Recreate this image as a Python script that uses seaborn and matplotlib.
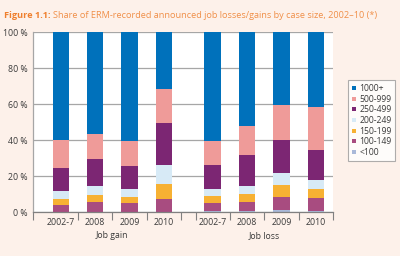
import matplotlib
matplotlib.use("Agg")
import matplotlib.pyplot as plt
import seaborn as sns
import numpy as np
from matplotlib.lines import Line2D

# ---- data ----
periods = ["2002-7", "2008", "2009", "2010"]
groups = ["Job gain", "Job loss"]
size_classes = ["<100", "100-149", "150-199", "200-249", "250-499", "500-999", "1000+"]

gain_lt100 = [0.2, 0.2, 0.2, 0.2]
gain_100_149 = [3.7, 5.4, 4.8, 7.0]
gain_150_199 = [3.3, 3.7, 3.5, 8.2]
gain_200_249 = [4.5, 5.2, 4.1, 10.8]
gain_250_499 = [12.6, 15.0, 13.0, 23.0]
gain_500_999 = [15.8, 14.1, 13.9, 19.1]
gain_1000p = [59.9, 56.4, 60.5, 31.7]

loss_lt100 = [0.3, 0.3, 1.1, 0.6]
loss_100_149 = [4.7, 5.1, 7.1, 7.0]
loss_150_199 = [3.9, 4.6, 6.8, 5.2]
loss_200_249 = [4.1, 4.5, 6.4, 4.8]
loss_250_499 = [13.0, 17.3, 18.7, 16.9]
loss_500_999 = [13.2, 15.9, 19.5, 23.6]
loss_1000p = [60.8, 52.3, 40.4, 41.9]

y_ticks = [0, 20, 40, 60, 80, 100]

colors = {
    "<100": "#a9b9d9",
    "100-149": "#a84c80",
    "150-199": "#f7b133",
    "200-249": "#d7eaf6",
    "250-499": "#7c2673",
    "500-999": "#ef9b99",
    "1000+": "#0071bb",
}

BG = "#fdf1ea"
TXT = "#3a3a3a"
GRID = "#a6a6a6"

sns.set_theme(style="white")
plt.rcParams["font.family"] = ["Open Sans", "DejaVu Sans"]

fig = plt.figure(figsize=(4.0, 2.56), dpi=100, facecolor=BG)
ax = fig.add_axes([33 / 400, 1 - 212 / 256, (333 - 33) / 400, (212 - 32) / 256])
ax.set_facecolor("white")

gain = [gain_lt100, gain_100_149, gain_150_199, gain_200_249, gain_250_499, gain_500_999, gain_1000p]
loss = [loss_lt100, loss_100_149, loss_150_199, loss_200_249, loss_250_499, loss_500_999, loss_1000p]
layers = [np.array(g + l, dtype=float) for g, l in zip(gain, loss)]
cum = np.cumsum(np.vstack(layers), axis=0)

n = len(periods)
gap = 0.42
xpos = np.array([i for i in range(n)] + [n + gap + i for i in range(n)])

for k in range(len(size_classes) - 1, -1, -1):
    sns.barplot(x=xpos, y=cum[k], color=colors[size_classes[k]], width=0.48,
                native_scale=True, linewidth=0, saturation=1, errorbar=None, ax=ax)

left = -0.81
right = 2 * n + gap - 0.5
bounds = [left] + [i + 0.5 for i in range(n)] + [n + gap - 0.5 + i for i in range(n + 1)]
bounds[n] = n - 0.5
ax.set_xlim(left, right)
ax.set_ylim(0, 100)
ax.set_xticks(bounds)
ax.set_xticklabels([])
ax.set_xticks(xpos, minor=True)
ax.set_xticklabels(periods + periods, minor=True, fontsize=6.3, color=TXT)
ax.tick_params(axis="x", which="major", length=6, width=0.8, color="#808080", direction="out", bottom=True)
ax.tick_params(axis="x", which="minor", length=0, pad=4)
ax.set_yticks(y_ticks)
ax.set_yticklabels([f"{v} %" for v in y_ticks], fontsize=6.3, color=TXT)
ax.tick_params(axis="y", length=0, pad=4)
ax.yaxis.grid(True, color=GRID, linewidth=0.9)
ax.set_axisbelow(True)
for s in ["top", "right"]:
    ax.spines[s].set_visible(False)
ax.spines["left"].set_color(GRID)
ax.spines["left"].set_linewidth(0.9)
ax.spines["bottom"].set_color("#808080")
ax.spines["bottom"].set_linewidth(0.9)
ax.set_xlabel("")
ax.set_ylabel("")

# group labels
gain_c = np.mean(xpos[:n])
loss_c = np.mean(xpos[n:])
ax.text(gain_c, -13.2, groups[0], ha="center", va="center", fontsize=6.3, color=TXT,
        transform=ax.transData, clip_on=False)
ax.text(loss_c, -13.2, groups[1], ha="center", va="center", fontsize=6.3, color=TXT,
        transform=ax.transData, clip_on=False)

# legend
handles = [Line2D([0], [0], marker="s", linestyle="", markersize=3.0,
                  markerfacecolor=colors[c], markeredgewidth=0, label=c)
           for c in reversed(size_classes)]
leg = fig.legend(handles=handles, loc="upper left", bbox_to_anchor=(348 / 400, 1 - 80 / 256),
                 frameon=True, fontsize=6.2, handlelength=0.5, handletextpad=0.35,
                 labelspacing=0.2, borderpad=0.45, borderaxespad=0, fancybox=False)
leg.get_frame().set_edgecolor("#9a9a9a")
leg.get_frame().set_linewidth(0.8)
leg.get_frame().set_facecolor("white")
for t in leg.get_texts():
    t.set_color(TXT)

# title
t1 = fig.text(4 / 400, 1 - 15 / 256, "Figure 1.1:", fontsize=6.6, fontweight="bold",
              color="#ef7f2d", ha="left", va="center")
fig.canvas.draw()
bb = t1.get_window_extent(renderer=fig.canvas.get_renderer())
fig.text((bb.x1 + 2.5) / 400, 1 - 15 / 256,
         "Share of ERM-recorded announced job losses/gains by case size, 2002\u201310 (*)",
         fontsize=6.6, color="#f08f48", ha="left", va="center")

fig.savefig("out.png", dpi=100, facecolor=BG)
